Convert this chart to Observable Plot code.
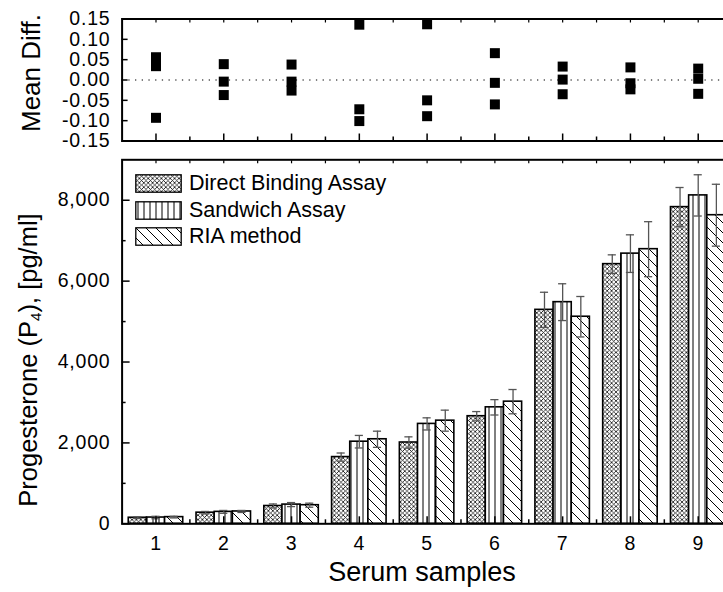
<!DOCTYPE html>
<html>
<head>
<meta charset="utf-8">
<script src="https://cdn.jsdelivr.net/npm/d3@7"></script>
<script src="https://cdn.jsdelivr.net/npm/@observablehq/plot@0.6"></script>
<style>
  html, body { margin: 0; padding: 0; background: white; overflow: hidden; }
  #wrap { position: relative; width: 723px; height: 592px; overflow: hidden; font-family: "Liberation Sans", Arial, sans-serif; color: black; }
  .abs { position: absolute; }
  .rot { position: absolute; white-space: nowrap; transform: translate(-50%, -50%) rotate(-90deg); line-height: 1; }
  .legend-row { position: absolute; display: flex; align-items: center; font-size: 21.5px; white-space: nowrap; }
  .legend-row svg { margin-right: 7px; display: block; }
</style>
</head>
<body>
<div id="wrap">
  <svg width="0" height="0" style="position:absolute">
    <defs>
      <pattern id="patDBA" patternUnits="userSpaceOnUse" width="4.4" height="4.4">
        <rect width="4.4" height="4.4" fill="white"/>
        <path d="M0,0 L4.4,4.4 M4.4,0 L0,4.4 M-1,3.4 L1,5.4 M3.4,-1 L5.4,1 M-1,1 L1,-1 M3.4,5.4 L5.4,3.4" stroke="black" stroke-width="0.75" fill="none"/>
      </pattern>
      <pattern id="patSW" patternUnits="userSpaceOnUse" width="6" height="6">
        <rect width="6" height="6" fill="white"/>
        <path d="M3,0 L3,6" stroke="black" stroke-width="1" fill="none"/>
      </pattern>
      <pattern id="patRIA" patternUnits="userSpaceOnUse" width="10" height="10">
        <rect width="10" height="10" fill="white"/>
        <path d="M0,0 L10,10 M-5,5 L5,15 M5,-5 L15,5" stroke="black" stroke-width="1" fill="none"/>
      </pattern>
    </defs>
  </svg>
  <div id="topChart" class="abs" style="left:0;top:0"></div>
  <div id="bottomChart" class="abs" style="left:0;top:150px"></div>
  <div class="rot" style="left:31px;top:73px;font-size:26px">Mean Diff.</div>
  <div class="rot" style="left:30px;top:360px;font-size:25.5px">Progesterone (P<sub style="font-size:60%;vertical-align:-0.25em">4</sub>), [pg/ml]</div>
  <div class="abs" style="left:422px;top:557px;transform:translateX(-50%);font-size:27px;white-space:nowrap">Serum samples</div>
  <div id="legend"></div>
</div>
<script>
// ---- data ----
const samples = [1, 2, 3, 4, 5, 6, 7, 8, 9];
const methods = ["Direct Binding Assay", "Sandwich Assay", "RIA method"];
const dbaValues = [150, 275, 440, 1650, 2010, 2660, 5290, 6420, 7830];
const sandwichValues = [155, 295, 475, 2030, 2470, 2880, 5480, 6680, 8120];
const riaValues = [165, 305, 460, 2090, 2550, 3020, 5120, 6790, 7630];
const dbaErrors = [20, 30, 50, 100, 140, 115, 435, 230, 485];
const sandwichErrors = [30, 35, 50, 155, 150, 190, 455, 465, 510];
const riaErrors = [20, 25, 50, 200, 260, 300, 500, 680, 765];
const diffUpper = [0.056, 0.039, 0.038, 0.136, 0.137, 0.066, 0.033, 0.031, 0.028];
const diffMiddle = [0.034, -0.004, -0.004, -0.072, -0.050, -0.007, 0.001, -0.008, 0.003];
const diffLower = [-0.093, -0.037, -0.026, -0.101, -0.089, -0.060, -0.035, -0.023, -0.034];
const diffTicks = [-0.15, -0.10, -0.05, 0, 0.05, 0.10, 0.15];
const valueTicks = [0, 2000, 4000, 6000, 8000];
const valueMinorTicks = [1000, 3000, 5000, 7000];
const sampleMinorTicks = [1.5, 2.5, 3.5, 4.5, 5.5, 6.5, 7.5, 8.5];

// ---- layout ----
const W = 760, ML = 121.6, MR = 28.4;
const barW = 0.268;       // bar width in sample units
const capHalf = 0.06;     // error cap half width in sample units
const patterns = ["url(#patDBA)", "url(#patSW)", "url(#patRIA)"];
const font = "'Liberation Sans', Arial, sans-serif";
const baseStyle = {fontFamily: font, background: "transparent", maxWidth: "none", overflow: "visible"};
const tickFont = 19.5;

const seriesValues = [dbaValues, sandwichValues, riaValues];
const seriesErrors = [dbaErrors, sandwichErrors, riaErrors];
const bars = [];
methods.forEach((m, k) => samples.forEach((s, i) => bars.push({
  sample: s, method: m, k, value: seriesValues[k][i], err: seriesErrors[k][i]
})));
const center = d => d.sample + (d.k - 1) * barW;

const diffs = [];
[diffUpper, diffMiddle, diffLower].forEach(arr => samples.forEach((s, i) => diffs.push({sample: s, diff: arr[i]})));

const noText = () => "";

// ---- top panel ----
const topPlot = Plot.plot({
  width: W, height: 150,
  marginLeft: ML, marginRight: MR, marginTop: 18.5, marginBottom: 9.5,
  style: baseStyle,
  x: {domain: [0.5, 9.5]},
  y: {domain: [-0.15, 0.15]},
  marks: [
    Plot.ruleY([0], {stroke: "black", strokeWidth: 1.2, strokeDasharray: "1.3,5.4"}),
    Plot.dot(diffs, {x: "sample", y: "diff", symbol: "square", r: 5.64, fill: "black", stroke: null}),
    Plot.axisX({anchor: "bottom", ticks: samples, tickSize: -7, tickFormat: noText, label: null, strokeWidth: 1.5}),
    Plot.axisX({anchor: "bottom", ticks: sampleMinorTicks, tickSize: -4, tickFormat: noText, label: null, strokeWidth: 1.5}),
    Plot.axisX({anchor: "top", ticks: samples.concat(sampleMinorTicks), tickSize: -3, tickFormat: noText, label: null, strokeWidth: 1.2}),
    Plot.axisY({anchor: "left", ticks: diffTicks, tickSize: -6, tickPadding: 17.6, tickFormat: d => d.toFixed(2), label: null, fontSize: tickFont, strokeWidth: 1.5}),
    Plot.frame({stroke: "black", strokeWidth: 2})
  ]
});
document.getElementById("topChart").appendChild(topPlot);

// ---- bottom panel ----
const barMarks = methods.map((m, k) => Plot.rectY(bars.filter(d => d.k === k), {
  x1: d => center(d) - barW / 2, x2: d => center(d) + barW / 2,
  y1: 0, y2: "value", fill: patterns[k], stroke: "black", strokeWidth: 1.6
}));

const bottomPlot = Plot.plot({
  width: W, height: 442,
  marginLeft: ML, marginRight: MR, marginTop: 9.3, marginBottom: 68.7,
  style: baseStyle,
  x: {domain: [0.5, 9.5]},
  y: {domain: [0, 9000]},
  marks: [
    ...barMarks,
    Plot.ruleX(bars, {x: center, y1: d => d.value - d.err, y2: d => d.value + d.err, stroke: "#555", strokeWidth: 1.3}),
    Plot.ruleY(bars, {y: d => d.value + d.err, x1: d => center(d) - capHalf, x2: d => center(d) + capHalf, stroke: "#555", strokeWidth: 1.3}),
    Plot.ruleY(bars, {y: d => d.value - d.err, x1: d => center(d) - capHalf, x2: d => center(d) + capHalf, stroke: "#555", strokeWidth: 1.3}),
    Plot.axisX({anchor: "bottom", ticks: samples, tickSize: -7, tickPadding: 19.3, tickFormat: d => String(d), label: null, fontSize: tickFont, strokeWidth: 1.5}),
    Plot.axisX({anchor: "bottom", ticks: sampleMinorTicks, tickSize: -4, tickFormat: noText, label: null, strokeWidth: 1.5}),
    Plot.axisX({anchor: "top", ticks: samples.concat(sampleMinorTicks), tickSize: -3, tickFormat: noText, label: null, strokeWidth: 1.2}),
    Plot.axisY({anchor: "left", ticks: valueTicks, tickSize: -8, tickPadding: 19.6, tickFormat: d3.format(","), label: null, fontSize: tickFont, strokeWidth: 1.5}),
    Plot.axisY({anchor: "left", ticks: valueMinorTicks, tickSize: -4, tickFormat: noText, label: null, strokeWidth: 1.5}),
    Plot.frame({stroke: "black", strokeWidth: 2})
  ]
});
document.getElementById("bottomChart").appendChild(bottomPlot);

[topPlot, bottomPlot].forEach(svg => {
  svg.style.maxWidth = "none";
  svg.style.background = "transparent";
  svg.querySelectorAll("text").forEach(t => t.style.letterSpacing = "0.8px");
});

// ---- legend ----
const legend = document.getElementById("legend");
methods.forEach((m, k) => {
  const row = document.createElement("div");
  row.className = "legend-row";
  row.style.left = "135px";
  row.style.top = (174 + k * 26.5) + "px";
  row.style.height = "19px";
  row.innerHTML = `<svg width="47" height="19"><rect x="0.8" y="0.8" width="45.4" height="17.4" fill="${patterns[k]}" stroke="black" stroke-width="1.3"/></svg><span>${m}</span>`;
  legend.appendChild(row);
});
</script>
</body>
</html>
